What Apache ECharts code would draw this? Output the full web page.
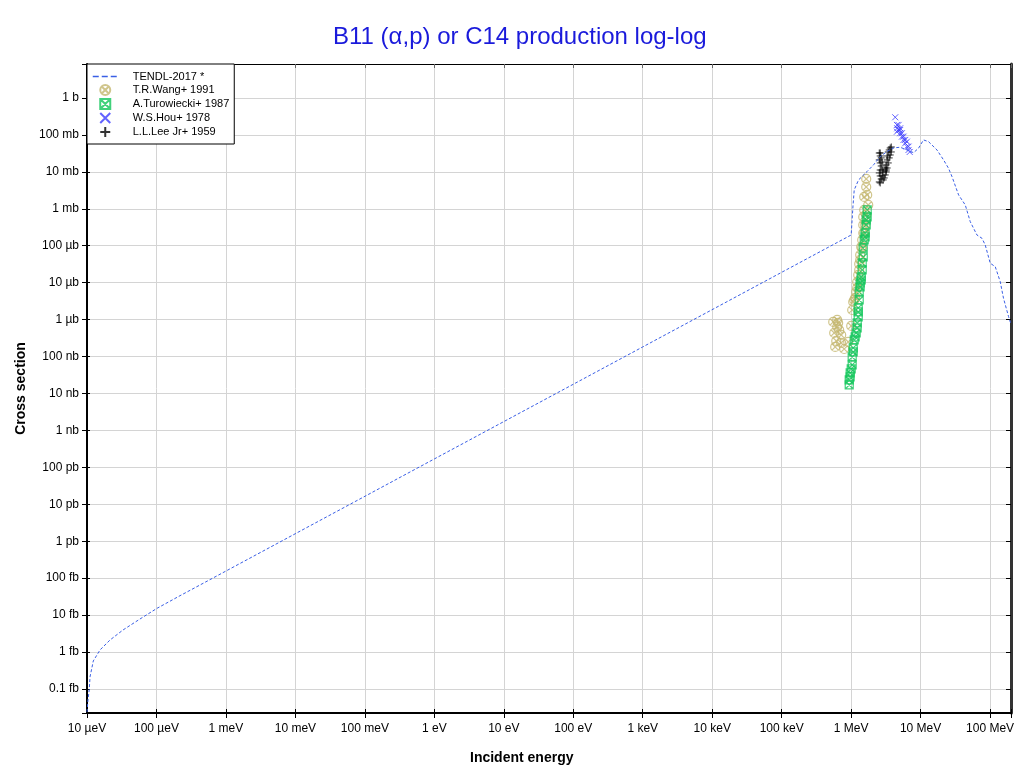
<!DOCTYPE html>
<html>
<head>
<meta charset="utf-8">
<script src="https://cdn.jsdelivr.net/npm/echarts@6/dist/echarts.min.js"></script>
<style>
  html, body { margin: 0; padding: 0; background: #fff; }
  #chart { width: 1022px; height: 774px; }
</style>
</head>
<body>
<div id="chart"></div>
<script>
// energies in MeV, cross sections in barns
const xMin = 1e-11, xMax = 200;
const yMin = 2.24e-17, yMax = 8.3;

const xTickLabels = ["10 µeV", "100 µeV", "1 meV", "10 meV", "100 meV", "1 eV", "10 eV", "100 eV",
  "1 keV", "10 keV", "100 keV", "1 MeV", "10 MeV", "100 MeV"];
const yTickLabels = ["0.1 fb", "1 fb", "10 fb", "100 fb", "1 pb", "10 pb", "100 pb", "1 nb", "10 nb",
  "100 nb", "1 µb", "10 µb", "100 µb", "1 mb", "10 mb", "100 mb", "1 b"];

// TENDL-2017 evaluation
const tendlE = [1e-11, 1.034e-11, 1.079e-11, 1.105e-11, 1.232e-11, 1.539e-11, 2.144e-11, 3.3e-11, 5.8e-11,
  1.02e-10, 2.18e-10, 4.24e-10, 1e-6, 1e-3, 1.0, 1.06, 1.107, 1.276, 1.686, 2.099, 2.62, 3.27, 4.04, 5.08,
  6.35, 7.91, 9.33, 11.0, 13.0, 17.2, 21.4, 25.2, 28.3, 35.2, 43.9, 51.8, 64.7, 76.4, 85.1, 100.5, 118.6,
  140, 156, 184.5, 200];
const tendlXs = [2.39e-17, 5.05e-17, 1.0e-16, 2.12e-16, 5.74e-16, 1.14e-15, 2.12e-15, 3.96e-15, 7.87e-15,
  1.53e-14, 3.35e-14, 6.55e-14, 1.69e-10, 1.82e-7, 1.95e-4, 1.12e-3, 3.23e-3, 6.03e-3, 1.01e-2, 1.54e-2,
  2.58e-2, 3.52e-2, 4.43e-2, 4.63e-2, 3.91e-2, 3.3e-2, 4.35e-2, 7.3e-2, 6.56e-2, 3.91e-2, 2.1e-2, 1.25e-2,
  7.41e-3, 2.37e-3, 1.27e-3, 4.48e-4, 1.95e-4, 1.59e-4, 1.05e-4, 3.35e-5, 2.71e-5, 1.06e-5, 3.78e-6,
  1.2e-6, 7.5e-7];

// T.R.Wang+ 1991
const wangE = [1.648, 1.648, 1.542, 1.702, 1.762, 1.542, 1.493, 1.493, 1.493, 1.442, 1.396, 1.349, 1.306,
  1.264, 1.222, 1.222, 1.143, 1.071, 1.035, 1.002, 0.908, 0.794, 0.719, 0.61, 0.589, 0.63, 0.65, 0.672,
  0.719, 0.63, 1.306, 1.183, 1.648, 1.592, 1.542, 1.442, 1.349, 1.107, 0.552, 0.57];
const wangXs = [6.41e-3, 3.9e-3, 2.09e-3, 2.37e-3, 1.27e-3, 9.29e-4, 6.01e-4, 3.65e-4, 2.21e-4, 1.43e-4,
  9.25e-5, 5.62e-5, 3.21e-5, 1.62e-5, 1.04e-5, 7.19e-6, 3.85e-6, 3.01e-6, 1.82e-6, 6.73e-7, 2.48e-7,
  1.6e-7, 2.33e-7, 2.64e-7, 1.82e-7, 9.77e-7, 8.11e-7, 5.25e-7, 3.84e-7, 6.33e-7, 2.21e-5, 5.6e-6,
  6.81e-4, 3.65e-4, 2.21e-4, 8.69e-5, 4.12e-5, 3.4e-6, 8.63e-7, 4.35e-7];

// A.Turowiecki+ 1987
const turoE = [1.702, 1.702, 1.648, 1.592, 1.542, 1.493, 1.493, 1.442, 1.442, 1.396, 1.349, 1.306, 1.306,
  1.264, 1.264, 1.222, 1.183, 1.107, 1.071, 1.035, 1.035, 0.968, 0.938, 0.938, 1.648, 1.592, 1.396, 1.264,
  1.143, 1.002, 0.968, 1.071, 1.349, 1.222];
const turoXs = [9.29e-4, 6.01e-4, 3.65e-4, 2.21e-4, 1.43e-4, 8.69e-5, 4.96e-5, 3.41e-5, 2.21e-5, 1.43e-5,
  9.82e-6, 5.6e-6, 3.4e-6, 2.07e-6, 1.18e-6, 5.94e-7, 4.35e-7, 2.81e-7, 1.71e-7, 9.74e-8, 5.92e-8, 3.59e-8,
  2.32e-8, 1.7e-8, 4.98e-4, 1.73e-4, 1.18e-5, 1.61e-6, 3.39e-7, 4.61e-8, 2.8e-8, 1.33e-7, 7.65e-6, 8.11e-7];

// W.S.Hou+ 1978
const houE = [4.31, 4.56, 4.6, 4.81, 4.56, 5.08, 5.08, 5.38, 5.38, 5.68, 5.68, 6.0, 6.0, 6.35, 6.35, 6.7,
  6.97, 6.7, 4.81, 5.08];
const houXs = [0.3, 0.186, 0.151, 0.136, 0.122, 0.111, 0.151, 0.0896, 0.111, 0.073, 0.0896, 0.0594, 0.073,
  0.0481, 0.0656, 0.0391, 0.0345, 0.0481, 0.186, 0.136];

// L.L.Lee Jr+ 1959
const leeE = [2.54, 2.62, 2.54, 2.62, 2.71, 2.62, 2.54, 2.62, 2.71, 2.54, 2.62, 2.8, 2.8, 2.8, 2.71, 2.89,
  2.89, 2.99, 3.09, 3.2, 3.09, 3.2, 3.3, 3.2, 3.3, 3.42, 3.3, 3.53, 3.42, 3.65, 3.53, 3.65, 3.78, 3.78, 2.62];
const leeXs = [0.0324, 0.0269, 0.021, 0.0174, 0.0144, 0.0112, 0.00933, 0.00773, 0.00641, 0.00532, 0.005,
  0.00773, 0.0112, 0.0185, 0.0238, 0.00993, 0.00603, 0.00683, 0.00824, 0.00993, 0.0127, 0.0154, 0.021,
  0.0112, 0.0127, 0.0174, 0.0269, 0.0238, 0.0345, 0.0286, 0.0391, 0.0443, 0.0471, 0.0345, 0.0324];

const FONT = "'Liberation Sans', Arial, sans-serif";

// log-log: values go through log10 onto value axes
function pts(es, xs) {
  return es.map((e, i) => [Math.log10(e), Math.log10(xs[i])]);
}
function decadeLabel(labels, offset) {
  return function (v) {
    const k = Math.round(v);
    if (Math.abs(v - k) > 1e-6) return "";
    return labels[k + offset] || "";
  };
}

const symCircleX = "path://M0,5A5,5,0,1,1,10,5A5,5,0,1,1,0,5ZM1.46,1.46L8.54,8.54M8.54,1.46L1.46,8.54";
const symSquareX = "path://M0,0L10,0L10,10L0,10ZM0,0L10,10M10,0L0,10";
const symCross = "path://M0,0L10,10M10,0L0,10";
const symPlus = "path://M5,0L5,10M0,5L10,5";

const xLo = Math.log10(xMin), xHi = Math.log10(xMax);
const yLo = Math.log10(yMin), yHi = Math.log10(yMax);

function scatter(name, es, xs, symbol, size, color, bw) {
  return {
    name: name,
    type: "scatter",
    data: pts(es, xs),
    symbol: symbol,
    symbolSize: size,
    itemStyle: { color: "transparent", borderColor: color, borderWidth: bw }
  };
}

function xAx(extra) {
  return Object.assign({
    type: "value",
    min: xLo,
    max: xHi,
    minInterval: 1,
    maxInterval: 1,
    splitNumber: 13,
    axisLabel: { show: false },
    splitLine: { show: false }
  }, extra);
}
function yAx(extra) {
  return Object.assign({
    type: "value",
    min: yLo,
    max: yHi,
    minInterval: 1,
    maxInterval: 1,
    splitNumber: 17,
    axisLabel: { show: false },
    splitLine: { show: false }
  }, extra);
}

const chart = echarts.init(document.getElementById("chart"));
chart.setOption({
  animation: false,
  backgroundColor: "#fff",
  title: [
    {
      text: "B11 (α,p) or C14 production log-log",
      left: 333,
      top: 25,
      padding: 0,
      textStyle: { fontFamily: FONT, fontSize: 24, fontWeight: "normal", color: "#1a1adb" }
    },
    {
      text: "Incident energy",
      left: 470,
      top: 751,
      padding: 0,
      textStyle: { fontFamily: FONT, fontSize: 14, fontWeight: "bold", color: "#000" }
    }
  ],
  legend: {
    left: 87,
    top: 64,
    orient: "vertical",
    backgroundColor: "#fff",
    borderColor: "#000",
    borderWidth: 1,
    borderRadius: 0,
    padding: [7, 5, 6, 5],
    itemWidth: 25,
    itemHeight: 10,
    itemGap: 2,
    selectedMode: false,
    textStyle: { fontFamily: FONT, fontSize: 11, color: "#000", padding: [0, 0, 0, 10] },
    data: [
      { name: "TENDL-2017 *", itemStyle: { color: "transparent", opacity: 0 }, lineStyle: { width: 1.5, type: [6, 3] } },
      "T.R.Wang+ 1991", "A.Turowiecki+ 1987", "W.S.Hou+ 1978", "L.L.Lee Jr+ 1959"
    ]
  },
  grid: { left: 87, right: 11, top: 64, bottom: 61 },
  xAxis: [
    xAx({
      axisLine: { onZero: false, lineStyle: { color: "#000", width: 2 } },
      axisTick: { length: 5, lineStyle: { color: "#000" } },
      axisLabel: { margin: 10, fontFamily: FONT, fontSize: 12, color: "#000", formatter: decadeLabel(xTickLabels, 11) },
      splitLine: { show: true, lineStyle: { color: "#d4d4d4", width: 1 } }
    }),
    xAx({
      position: "top",
      axisLine: { onZero: false, lineStyle: { color: "#000", width: 1 } },
      axisTick: { inside: true, length: 4, lineStyle: { color: "#666" } }
    }),
    xAx({
      position: "bottom",
      axisLine: { show: false, onZero: false },
      axisTick: { inside: true, length: 4, lineStyle: { color: "#000" } }
    })
  ],
  yAxis: [
    yAx({
      name: "Cross section",
      nameLocation: "middle",
      nameRotate: 90,
      nameGap: 46,
      nameTextStyle: { fontFamily: FONT, fontSize: 14, fontWeight: "bold", color: "#000" },
      axisLine: { onZero: false, lineStyle: { color: "#000", width: 2 } },
      axisTick: { length: 5, lineStyle: { color: "#000" } },
      axisLabel: { margin: 8, fontFamily: FONT, fontSize: 12, color: "#000", formatter: decadeLabel(yTickLabels, 16) },
      splitLine: { show: true, lineStyle: { color: "#d4d4d4", width: 1 } }
    }),
    yAx({
      position: "right",
      axisLine: { onZero: false, lineStyle: { color: "#333", width: 3 } },
      axisTick: { inside: true, length: 5, lineStyle: { color: "#000" } }
    }),
    yAx({
      position: "left",
      axisLine: { show: false, onZero: false },
      axisTick: { inside: true, length: 3, lineStyle: { color: "#000" } }
    })
  ],
  series: [
    {
      name: "TENDL-2017 *",
      type: "line",
      data: pts(tendlE, tendlXs),
      symbol: "none",
      showSymbol: false,
      itemStyle: { color: "#3a5fe5" },
      lineStyle: { color: "#3a5fe5", width: 1, type: [3, 2] }
    },
    scatter("T.R.Wang+ 1991", wangE, wangXs, symCircleX, 9, "#c4b66f", 1.2),
    scatter("A.Turowiecki+ 1987", turoE, turoXs, symSquareX, 8, "#12c65a", 1.2),
    scatter("W.S.Hou+ 1978", houE, houXs, symCross, 6, "#3b3bff", 1),
    scatter("L.L.Lee Jr+ 1959", leeE, leeXs, symPlus, 7, "#000", 1)
  ]
});
</script>
</body>
</html>
